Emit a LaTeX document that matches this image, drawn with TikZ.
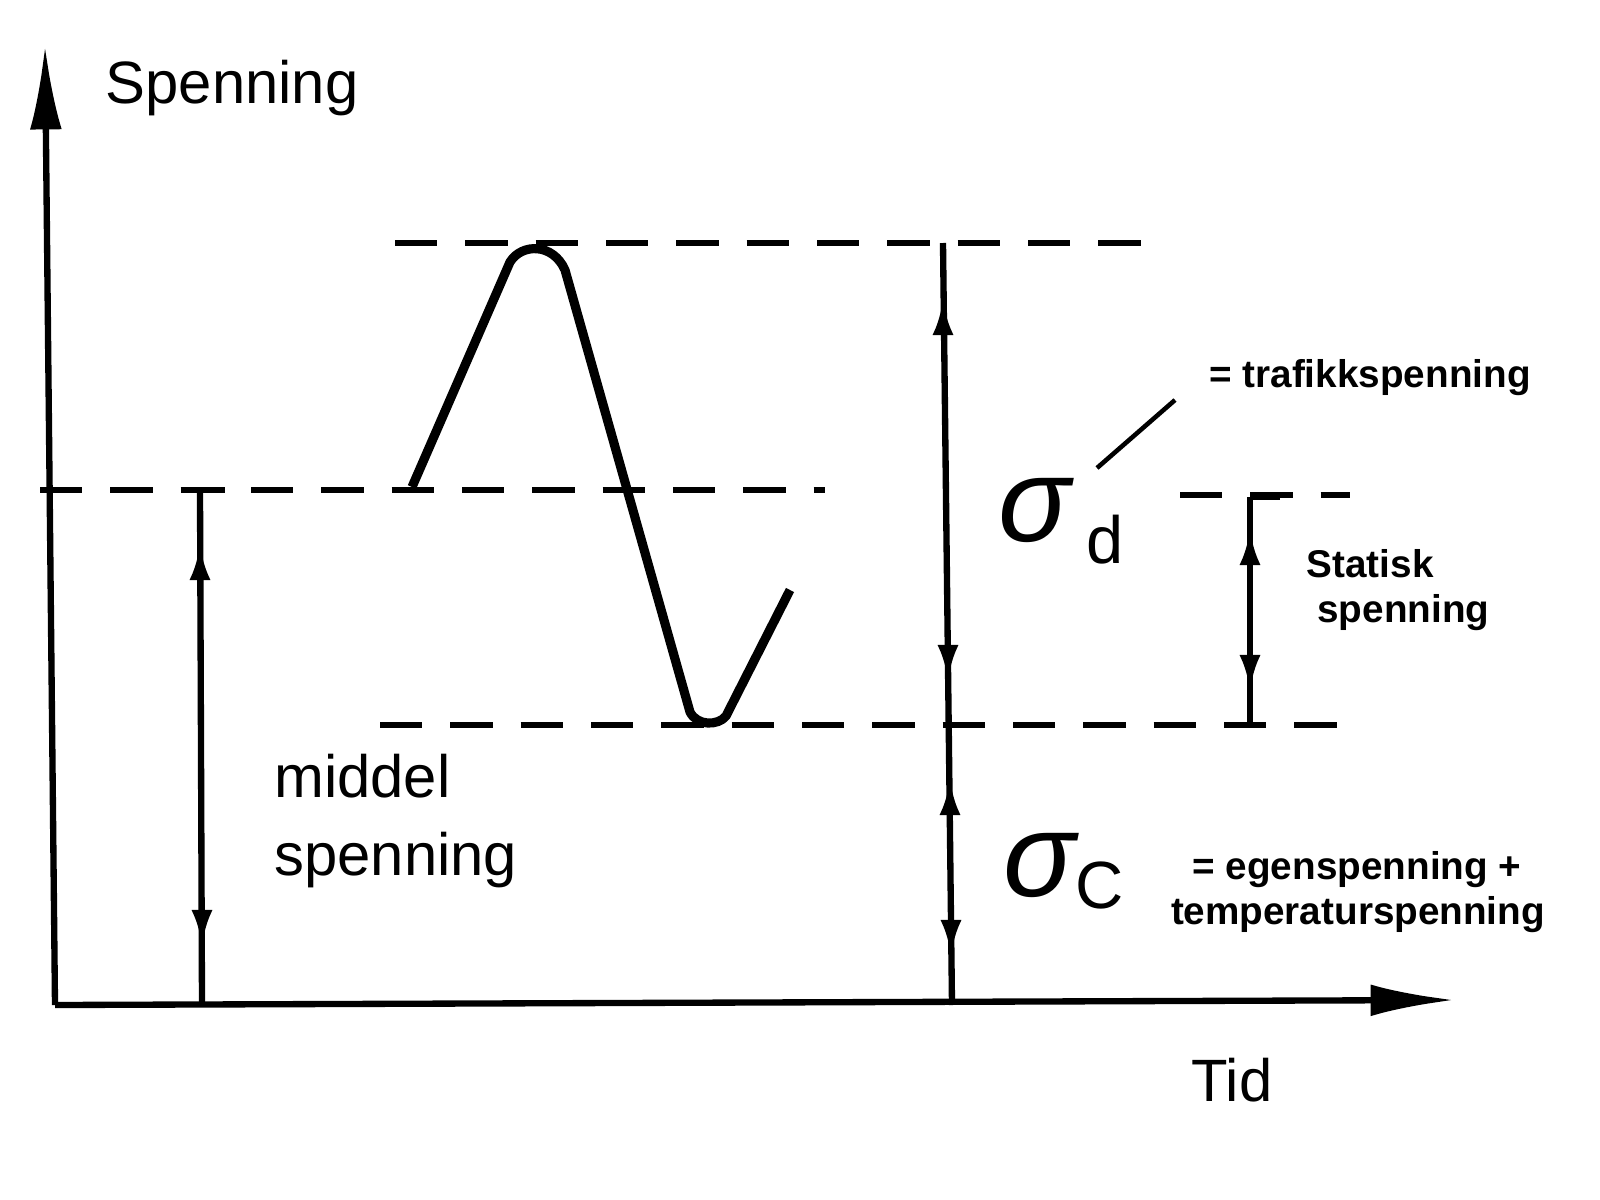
\documentclass[tikz,border=0pt]{standalone}
\usepackage{fontspec}
\setmainfont{Liberation Sans}
\usetikzlibrary{arrows.meta}
\begin{document}
\begin{tikzpicture}[x=0.01cm,y=-0.01cm,
 ln/.style={line width=1.8pt},
 dsh/.style={line width=1.6pt,dash pattern=on 12pt off 8pt},
 tip/.style={-{Latex[length=10pt,width=6pt]},line width=1.6pt},
 big/.style={font=\fontsize{17}{22}\selectfont},
 sm/.style={font=\fontsize{11}{13}\selectfont\bfseries},
 sig/.style={font=\fontsize{34}{36}\selectfont\itshape,inner sep=0pt},
 sub/.style={font=\fontsize{19}{21}\selectfont,inner sep=0pt}]
\useasboundingbox (0,0) rectangle (1600,1200);
% axes
\coordinate (o) at (55,1005);
\coordinate (ytop) at (45,45);
\coordinate (xend) at (1455,1000);
\draw[ln,-{Latex[length=24pt,width=9pt]}] (o) -- (ytop);
\draw[ln,-{Latex[length=24pt,width=9pt]}] (o) -- (xend);
\node[big] (spn) at (232,88) {Spenning};
\node[big] (tid) at (1232,1080) {Tid};
% dashed levels
\draw[dsh] (395,243) -- (1145,243);
\draw[dsh] (40,490) -- (825,490);
\draw[dsh] (1180,495) -- (1350,495);
\draw[dsh] (380,725) -- (1360,725);
% wave
\draw[line width=2.6pt,line join=round] (412,487) -- (510,262) .. controls (522,243) and (553,243) .. (565,270)
 -- (690,712) .. controls (697,726) and (718,726) .. (726,716) -- (790,590);
% middel vertical
\coordinate (m1) at (200,490); \coordinate (m2) at (202,1005);
\draw[ln] (m1) -- (m2);
\draw[ln] (m1) -- (225,490);
\draw[tip] (200,580) -- (200,545);
\draw[tip] (202,915) -- (202,945);
% main vertical
\coordinate (v1) at (943,243); \coordinate (v2) at (952,1005);
\draw[ln] (v1) -- (v2);
\draw[tip] (943,330) -- (943,300);
\draw[tip] (948,650) -- (948,680);
\draw[tip] (950,810) -- (950,780);
\draw[tip] (951,925) -- (951,955);
% statisk bracket
\coordinate (s1) at (1250,497); \coordinate (s2) at (1250,725);
\draw[ln] (s1) -- (s2);
\draw[ln] (s1) -- (1280,497);
\draw[tip] (1250,555) -- (1250,530);
\draw[tip] (1250,665) -- (1250,690);
% labels
\node[sig] (sd) at (1035,510) {σ};
\node[sub] (sdi) at (1105,540) {d};
\node[sig] (sc) at (1040,865) {σ};
\node[sub] (sci) at (1100,885) {C};
\node[sm] (traf) at (1370,378) {= trafikkspenning};
\draw[line width=1.3pt] (1097,468) -- (1175,400);
\node[sm,align=left] (stat) at (1398,590) {Statisk\\ \ spenning};
\node[sm,align=left] (egen) at (1358,892) {\ \ = egenspenning +\\temperaturspenning};
\node[big,align=left,anchor=north west] (mid) at (262,742) {middel\\spenning};
\end{tikzpicture}
\end{document}
